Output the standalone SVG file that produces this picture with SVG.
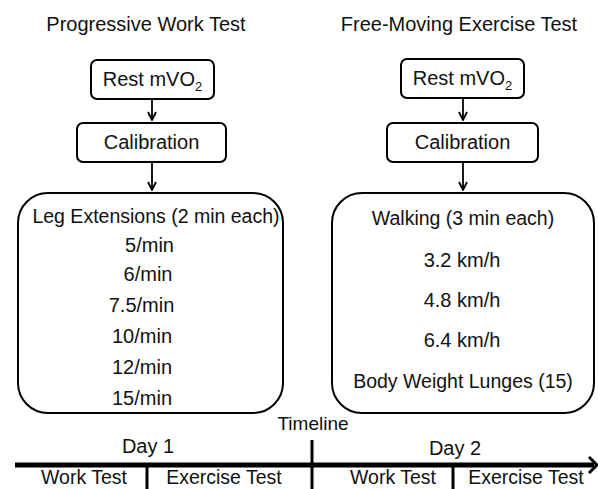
<svg xmlns="http://www.w3.org/2000/svg" width="598" height="489" viewBox="0 0 598 489">
<style>
text{font-family:"Liberation Sans",Arial,sans-serif;font-size:20px;fill:#111;text-anchor:middle}
.box{fill:#fff;stroke:#000;stroke-width:2}
.con{stroke:#000;stroke-width:1.8;fill:none}
.tl{stroke:#000;stroke-width:3;fill:none}
.bt{font-size:19.5px}
</style>
<defs>
<marker id="ah" viewBox="0 0 10 10" refX="9" refY="5" markerWidth="10" markerHeight="10" markerUnits="userSpaceOnUse" orient="auto">
<path d="M1,1 L9,5 L1,9" fill="none" stroke="#000" stroke-width="1.8"/>
</marker>
</defs>
<rect width="598" height="489" fill="#fff"/>
<text x="146" y="31">Progressive Work Test</text>
<text x="459" y="31">Free-Moving Exercise Test</text>
<g id="rest1"><rect class="box" x="91" y="60" width="123" height="39" rx="6"/><text x="152.5" y="86">Rest mVO<tspan font-size="13" dy="5">2</tspan></text></g>
<g id="cal1"><rect class="box" x="77" y="123" width="149" height="39" rx="6"/><text x="151.5" y="149">Calibration</text></g>
<g id="ex1"><rect class="box" x="18" y="193" width="265" height="220" rx="30"/>
<text x="156" y="223" class="bt">Leg Extensions (2 min each)</text>
<text x="149.5" y="252">5/min</text>
<text x="148" y="281">6/min</text>
<text x="141.5" y="312">7.5/min</text>
<text x="142" y="343">10/min</text>
<text x="142" y="374">12/min</text>
<text x="142" y="405">15/min</text>
</g>
<g id="rest2"><rect class="box" x="401" y="59" width="123" height="39" rx="6"/><text x="462.5" y="85">Rest mVO<tspan font-size="13" dy="5">2</tspan></text></g>
<g id="cal2"><rect class="box" x="387" y="123" width="151" height="39" rx="6"/><text x="462.5" y="149">Calibration</text></g>
<g id="ex2"><rect class="box" x="332" y="193" width="262" height="220" rx="30"/>
<text x="463" y="225" class="bt">Walking (3 min each)</text>
<text x="462" y="267">3.2 km/h</text>
<text x="462" y="307">4.8 km/h</text>
<text x="462" y="347">6.4 km/h</text>
<text x="463" y="388" class="bt">Body Weight Lunges (15)</text>
</g>
<g id="connectors">
<line class="con" x1="152" y1="99" x2="152" y2="120" marker-end="url(#ah)"/>
<line class="con" x1="152" y1="162" x2="152" y2="190" marker-end="url(#ah)"/>
<line class="con" x1="463" y1="98" x2="463" y2="120" marker-end="url(#ah)"/>
<line class="con" x1="463" y1="162" x2="463" y2="190" marker-end="url(#ah)"/>
</g>
<g id="timeline">
<text x="313" y="430" style="font-size:19px">Timeline</text>
<text x="148" y="453">Day 1</text>
<text x="455" y="455">Day 2</text>
<line x1="15" y1="465" x2="594" y2="465" stroke="#000" stroke-width="5"/>
<path d="M589,457 L597,465 L589,473" fill="none" stroke="#000" stroke-width="3"/>
<line class="tl" x1="147" y1="465" x2="147" y2="489"/>
<line class="tl" x1="312" y1="440" x2="312" y2="489"/>
<line class="tl" x1="453" y1="465" x2="453" y2="489"/>
<text x="84" y="484" class="bt">Work Test</text>
<text x="224" y="484" class="bt">Exercise Test</text>
<text x="393" y="484" class="bt">Work Test</text>
<text x="526" y="484" class="bt">Exercise Test</text>
</g>
</svg>
